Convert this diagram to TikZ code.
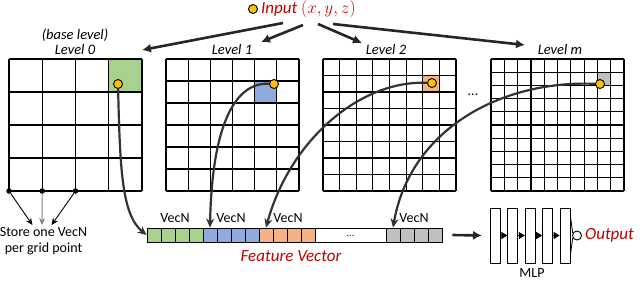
\documentclass[tikz,border=0pt]{standalone}
\usepackage{fontspec}
\setmainfont{Carlito}
\usetikzlibrary{arrows.meta,positioning}
\definecolor{cellgreen}{HTML}{A9D18E}
\definecolor{cellblue}{HTML}{8FAADC}
\definecolor{cellorange}{HTML}{F4B183}
\definecolor{cellgray}{HTML}{BFBFBF}
\definecolor{dotyellow}{HTML}{FFC000}
\definecolor{labred}{HTML}{C00000}
\definecolor{curvegray}{HTML}{333333}
\tikzset{
  gridline/.style={line width=1.2pt,black},
  ptdot/.style={circle,draw=black,line width=0.9pt,fill=dotyellow,inner sep=0pt,minimum size=9pt},
  lvl/.style={font=\fontsize{14.5}{16}\selectfont\itshape,inner sep=1pt},
  redlab/.style={font=\fontsize{17}{19}\selectfont\itshape,text=labred,inner sep=1pt},
  plain/.style={font=\fontsize{14}{16}\selectfont,inner sep=1pt},
  bigarrow/.style={line width=2.6pt,draw=black!85,-{Latex[length=9pt,width=9pt]}},
  lookup/.style={line width=2.2pt,draw=curvegray,-{Stealth[length=9pt,width=8pt]}},
  vcell/.style={draw=black,line width=0.8pt,minimum width=14pt,minimum height=14pt,inner sep=0pt},
  layer/.style={draw=black,line width=1pt,fill=white,minimum width=10pt,minimum height=55pt,inner sep=0pt},
  corner/.style={circle,fill=black,inner sep=0pt,minimum size=5.5pt}
}
\begin{document}
\begin{tikzpicture}[x=1pt,y=-1pt]
\useasboundingbox (0,0) rectangle (640,295);

% highlighted cells
\fill[cellgreen] (108.75,59) rectangle (142,92);
\fill[cellblue] (254.7,81) rectangle (276.8,103);
\fill[cellorange] (422.75,75.5) rectangle (439.4,92);
\fill[cellgray] (596.6,72.2) rectangle (609.8,85.4);

% the four grids
\foreach \gx/\gn in {9/4,166/6,323/8,491/10}
  \foreach \i in {0,...,\gn} {
    \draw[gridline] ({\gx+\i*133/\gn},59) -- ++(0,132);
    \draw[gridline] (\gx,{59+\i*132/\gn}) -- ++(133,0);
  }

% level labels
\node[lvl] (l0) at (75,50) {Level 0};
\node[lvl,above=1pt of l0] (base) {(base level)};
\node[lvl] (l1) at (232,50) {Level 1};
\node[lvl] (l2) at (386,50) {Level 2};
\node[lvl] (lm) at (560,50) {Level m};
\node[plain] (dots) at (473,95) {...};

% input
\node[ptdot] (in) at (253,9) {};
\node[redlab,right=2pt of in,yshift=-0.5pt] (intxt) {Input $(x,y,z)$};
\coordinate (s0) at (283,23);
\coordinate (s1) at (303,25);
\coordinate (s2) at (318,24);
\coordinate (s3) at (333,24);
\coordinate (t0) at (142,50);
\coordinate (t1) at (261,42);
\coordinate (t2) at (362,43);
\coordinate (t3) at (525,45);
\draw[bigarrow] (s0) -- (t0);
\draw[bigarrow] (s1) -- (t1);
\draw[bigarrow] (s2) -- (t2);
\draw[bigarrow] (s3) -- (t3);

% grid points of level 0
\node[corner] (p0) at (9,191) {};
\node[corner] (p1) at (42.25,191) {};
\node[corner] (p2) at (75.5,191) {};
\node[plain,align=center] (store) at (43.5,241) {Store one VecN\\per grid point};
\draw[line width=0.9pt,-{Stealth[length=7pt,width=6pt]}] (p0) -- ([xshift=-11pt,yshift=1pt]store.north);
\draw[line width=0.9pt,draw=black!50,-{Stealth[length=7pt,width=6pt]}] (p1) -- ([xshift=-1.5pt,yshift=1pt]store.north);
\draw[line width=0.9pt,-{Stealth[length=7pt,width=6pt]}] (p2) -- ([xshift=8pt,yshift=1pt]store.north);

% feature vector
\foreach \k in {0,...,3} {
  \node[vcell,fill=cellgreen] (g\k) at ({154+14*\k},235) {};
  \node[vcell,fill=cellblue] (b\k) at ({210+14*\k},235) {};
  \node[vcell,fill=cellorange] (o\k) at ({266+14*\k},235) {};
  \node[vcell,fill=cellgray] (y\k) at ({393+14*\k},235) {};
}
\node[vcell,minimum width=71pt] (rest) at (350.5,235) {};
\node[plain,font=\fontsize{10}{12}\selectfont] at (350.5,236) {...};
\node[plain] at (175,218) {VecN};
\node[plain] at (231,218) {VecN};
\node[plain] at (288,218) {VecN};
\node[plain] at (414,218) {VecN};
\node[redlab] (fv) at (291,256) {Feature Vector};

% lookups
\node[ptdot] (d0) at (118,84) {};
\node[ptdot] (d1) at (274,84) {};
\node[ptdot] (d2) at (432,83) {};
\node[ptdot] (dm) at (600,84) {};
\draw[lookup] (d0) .. controls (120,170) and (122,215) .. (g0.west);
\draw[lookup] (d1) .. controls (235,82) and (212,125) .. (b0.north);
\draw[lookup] (d2) .. controls (360,80) and (290,140) .. (o0.north);
\draw[lookup] (dm) .. controls (500,80) and (410,130) .. (y0.north);

% MLP
\foreach \k in {0,...,4}
  \node[layer] (m\k) at ({495.5+17.4*\k},235.5) {};
\foreach \k/\n in {0/1,1/2,2/3,3/4}
  \draw[line width=0.8pt,-{Triangle[length=6pt,width=7pt]}] (m\k.east) -- (m\n.west);
\draw[bigarrow] ([xshift=10pt]y3.east) -- ([xshift=-8pt]m0.west);
\node[circle,draw=black,line width=0.9pt,inner sep=0pt,minimum size=9pt] (out) at (577,235.5) {};
\draw[line width=0.8pt] ([yshift=-10pt]m4.north east) -- (out.150);
\draw[line width=0.8pt] ([yshift=10pt]m4.south east) -- (out.210);
\node[redlab,right=2pt of out] (outtxt) {Output};
\node[plain] (mlp) at (532,273) {MLP};
\end{tikzpicture}
\end{document}
